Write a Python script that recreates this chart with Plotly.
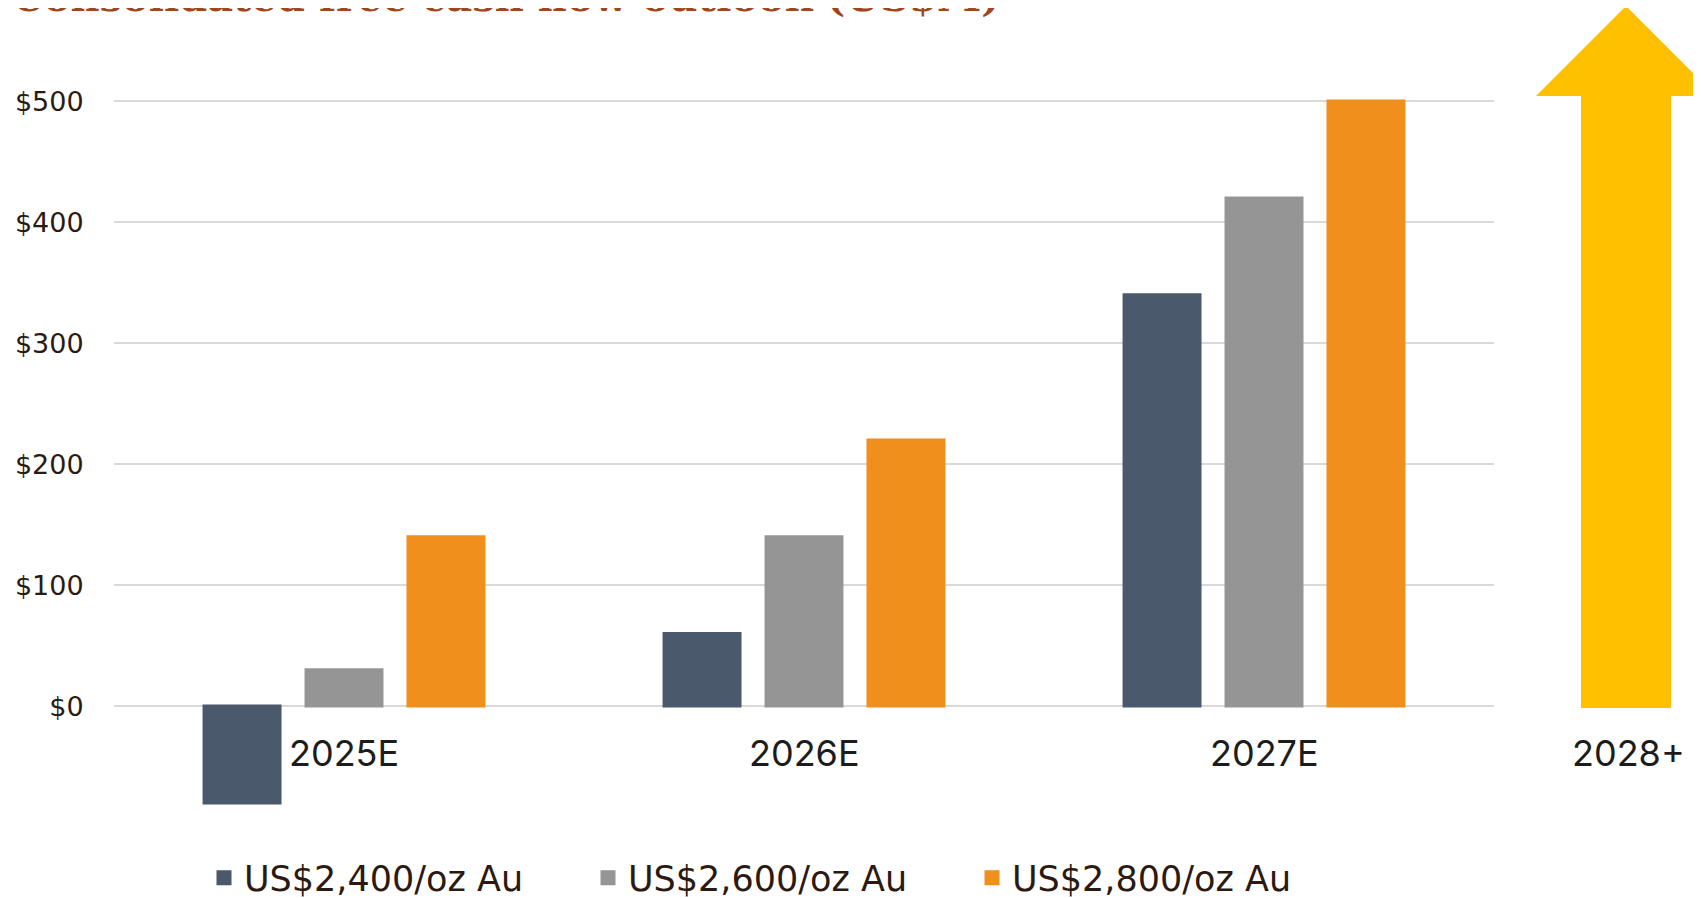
import plotly.graph_objects as go

categories = ["2025E", "2026E", "2027E"]
extra_category = "2028+"
series_names = ["US$2,400/oz Au", "US$2,600/oz Au", "US$2,800/oz Au"]
values_2400 = [-80, 60, 340]
values_2600 = [30, 140, 420]
values_2800 = [140, 220, 500]
colors = ["#4A596C", "#959595", "#F18F1D"]
tick_values = [0, 100, 200, 300, 400, 500]
tick_labels = ["$0", "$100", "$200", "$300", "$400", "$500"]
title_text = "Consolidated free cash flow outlook (US$M)"

# the page body adds an 8px offset; work in page pixels and convert
OFF = 8
W, H = 1701 - OFF, 898 - OFF
PLOT_L, PLOT_R, PLOT_T, PLOT_B = 114, 1494, 89, 815  # page pixels
ML, MT = PLOT_L - OFF, PLOT_T - OFF
MR = W - (PLOT_R - OFF)
MB = H - (PLOT_B - OFF)
PW = PLOT_R - PLOT_L
PH = PLOT_B - PLOT_T


def px_x(p):
    return (p - PLOT_L) / PW


def px_y(p):
    return (PLOT_B - p) / PH


fig = go.Figure()
for name, vals, col in zip(series_names, [values_2400, values_2600, values_2800], colors):
    fig.add_trace(go.Bar(x=categories, y=vals, name=name, marker_color=col,
                         marker_line=dict(width=3, color=col)))

label_font = dict(family="Inter, Liberation Sans, sans-serif", size=36, color="#1c1c1c")
annotations = []
for c in categories:
    annotations.append(dict(x=c, y=-38.8, xref="x", yref="y", text=c, showarrow=False,
                            font=label_font, xanchor="center", yanchor="middle"))
annotations.append(dict(x=px_x(1628), y=-38.8, xref="paper", yref="y", text=extra_category,
                        showarrow=False, font=label_font, xanchor="center", yanchor="middle"))
annotations.append(dict(x=px_x(10), y=px_y(22), xref="paper", yref="paper", text="<b>" + title_text + "</b>",
                        showarrow=False,
                        font=dict(family="DejaVu Serif, serif", size=40, color="#A0461A"),
                        xanchor="left", yanchor="bottom"))

pts = [(1581, 708), (1581, 96), (1536, 96), (1626, 6), (1716, 96), (1671, 96), (1671, 708)]
path = "M " + " L ".join(f"{px_x(a):.5f},{px_y(b):.5f}" for a, b in pts) + " Z"

fig.update_layout(
    width=W, height=H,
    margin=dict(l=ML, r=MR, t=MT, b=MB, autoexpand=False),
    paper_bgcolor="white", plot_bgcolor="white",
    barmode="group", bargap=0.335, bargroupgap=0.255,
    showlegend=True,
    legend=dict(orientation="h", x=px_x(204), xanchor="left", y=px_y(878), yanchor="middle",
                font=dict(family="DejaVu Sans, sans-serif", size=35, color="#2B1A12"),
                entrywidth=339, entrywidthmode="pixels", itemwidth=30,
                bgcolor="rgba(0,0,0,0)"),
    annotations=annotations,
    shapes=[dict(type="path", path=path, xref="paper", yref="paper",
                 fillcolor="#FFC000", line=dict(width=0), layer="above")],
    xaxis=dict(showticklabels=False, showgrid=False, zeroline=False, showline=False, ticks=""),
    yaxis=dict(range=[-90, 510], tickvals=tick_values, ticktext=tick_labels,
               showgrid=True, gridcolor="#D9D9D9", gridwidth=2,
               zeroline=True, zerolinecolor="#D9D9D9", zerolinewidth=2,
               showline=False, ticks="outside", ticklen=24, tickcolor="rgba(0,0,0,0)",
               tickfont=dict(family="DejaVu Sans, sans-serif", size=27, color="#2B1A12")),
)

fig.write_html("out.html")
